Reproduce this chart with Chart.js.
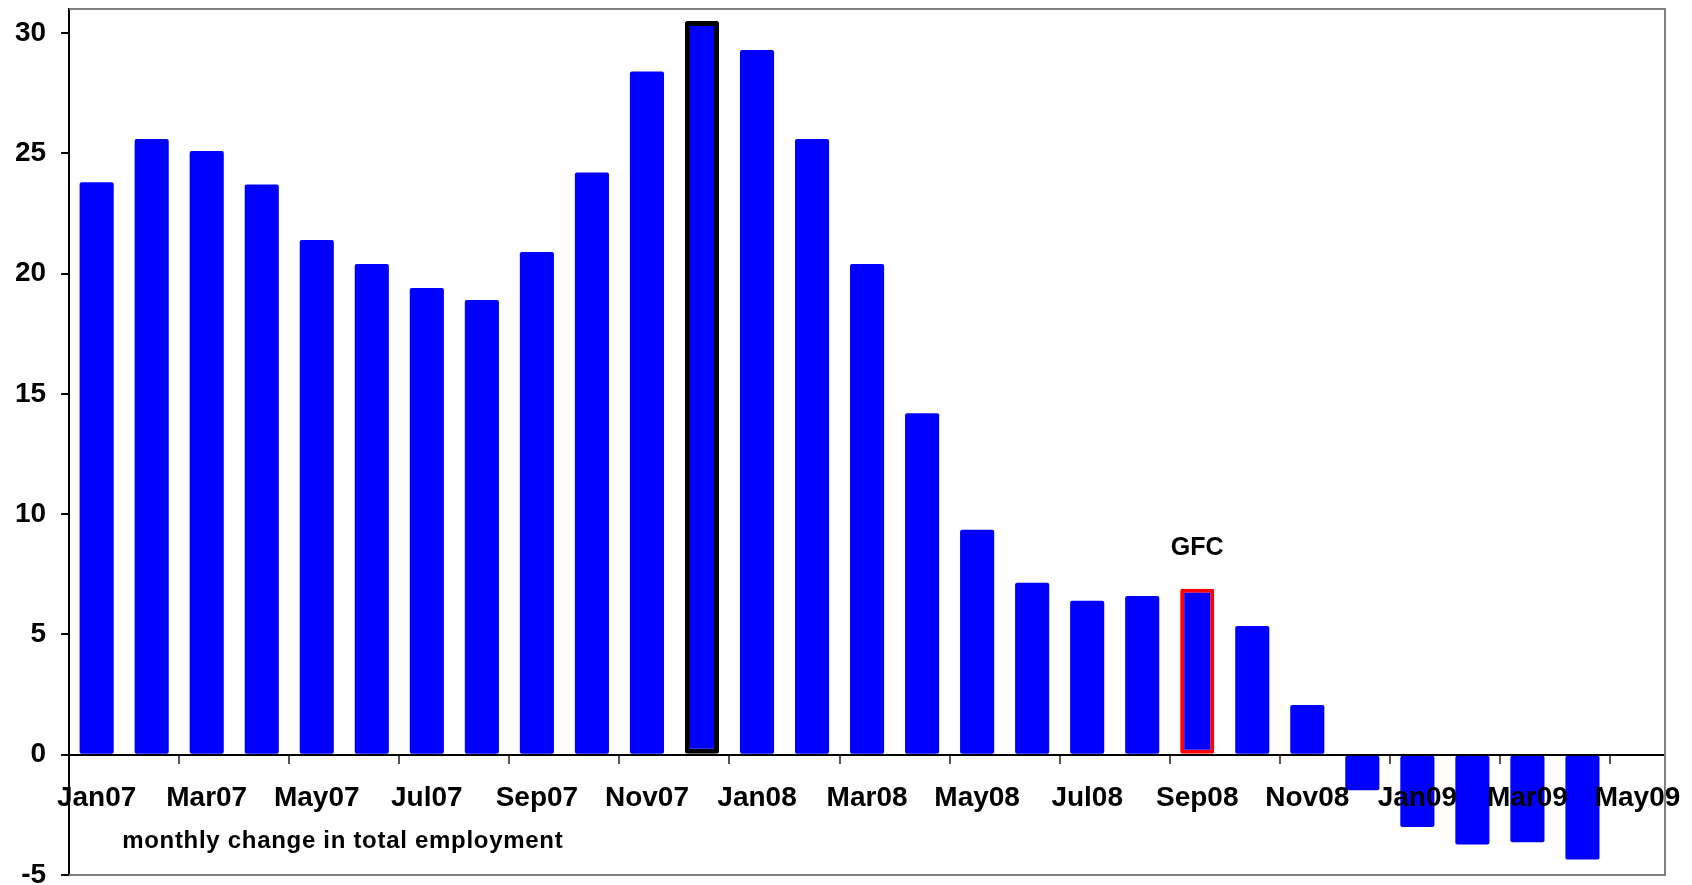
<!DOCTYPE html>
<html>
<head>
<meta charset="utf-8">
<script src="https://cdn.jsdelivr.net/npm/chart.js@4"></script>
<style>
  html, body { margin: 0; padding: 0; background: #fff; }
  #wrap { width: 1692px; height: 885px; }
</style>
</head>
<body>
<div id="wrap"><canvas id="employment_change_chart" width="1692" height="885"></canvas></div>
<script>
const months = ['Jan07','Feb07','Mar07','Apr07','May07','Jun07','Jul07','Aug07','Sep07','Oct07','Nov07','Dec07',
  'Jan08','Feb08','Mar08','Apr08','May08','Jun08','Jul08','Aug08','Sep08','Oct08','Nov08','Dec08',
  'Jan09','Feb09','Mar09','Apr09','May09'];
const employmentChange = [23.8, 25.6, 25.1, 23.7, 21.4, 20.4, 19.4, 18.9, 20.9, 24.2, 28.4, 30.5,
  29.3, 25.6, 20.4, 14.2, 9.35, 7.15, 6.4, 6.6, 6.9, 5.35, 2.07, -1.48,
  -3.0, -3.73, -3.64, -4.36, null];
const yTickValues = [-5, 0, 5, 10, 15, 20, 25, 30];
const highlightMonths = { 'Dec07': '#000000', 'Sep08': '#ff0000' };
const noteLabel = 'GFC';
const noteMonth = 'Sep08';
const axisNote = 'monthly change in total employment';

const tickFont = { family: 'Liberation Sans, Arial, sans-serif', size: 28, weight: 'bold' };

let employment_change_canvas = document.querySelector('#employment_change_chart');

// frame round the plot area and the two text notes
const frame_and_notes = {
  id: 'frame_and_notes',
  afterDraw(chart) {
    const ctx = chart.ctx;
    const a = chart.chartArea;
    const xs = chart.scales.x;
    const ys = chart.scales.y;
    ctx.save();
    ctx.strokeStyle = '#808080';
    ctx.lineWidth = 2;
    ctx.beginPath();
    ctx.moveTo(a.left, a.top);
    ctx.lineTo(a.right, a.top);
    ctx.lineTo(a.right, a.bottom);
    ctx.lineTo(a.left, a.bottom);
    ctx.stroke();

    ctx.fillStyle = '#000';
    ctx.font = 'bold 25px Liberation Sans, Arial, sans-serif';
    ctx.textAlign = 'center';
    ctx.textBaseline = 'middle';
    const i = months.indexOf(noteMonth);
    ctx.fillText(noteLabel, xs.getPixelForValue(i), ys.getPixelForValue(employmentChange[i]) - 41);

    ctx.textAlign = 'left';
    ctx.font = 'bold 24px Liberation Sans, Arial, sans-serif';
    ctx.letterSpacing = '0.7px';
    ctx.fillText(axisNote, a.left + 53, ys.getPixelForValue(-3.62));
    ctx.restore();
  }
};

const employment_change_chart = new Chart(
  employment_change_canvas,
  {
    type: 'bar',
    data: {
      labels: months,
      datasets: [{
        data: employmentChange,
        backgroundColor: '#0000ff',
        borderColor: months.map(m => highlightMonths[m] || '#0000ff'),
        borderWidth: months.map(m => highlightMonths[m] === '#000000' ? 5 : (highlightMonths[m] ? 4 : 0)),
        borderSkipped: false,
        borderRadius: 2,
        barPercentage: 0.62,
        categoryPercentage: 1.0
      }]
    },
    options: {
      responsive: false,
      animation: false,
      devicePixelRatio: 1,
      layout: { padding: { left: 0, top: 9, right: 27, bottom: 10 } },
      scales: {
        x: {
          position: { y: 0 },
          afterFit: s => { s.paddingLeft = 0; s.paddingRight = 0; },
          grid: {
            drawOnChartArea: false,
            offset: true,
            tickLength: 8,
            lineWidth: 2,
            color: ctx => ctx.index % 2 === 0 ? '#555555' : 'rgba(0,0,0,0)'
          },
          border: { color: '#000', width: 2, z: 1 },
          ticks: {
            z: 1,
            autoSkip: false,
            maxRotation: 0,
            padding: 19,
            color: '#000',
            font: tickFont,
            callback: (v, i) => i % 2 === 0 ? months[i] : ''
          }
        },
        y: {
          min: -5,
          max: 31,
          afterBuildTicks: s => { s.ticks = yTickValues.map(v => ({ value: v })); },
          afterFit: s => { s.paddingTop = 0; s.paddingBottom = 0; },
          grid: { drawOnChartArea: false, tickLength: 8, color: '#000', lineWidth: 2 },
          border: { color: '#000', width: 2 },
          ticks: { padding: 15, color: '#000', font: tickFont }
        }
      },
      plugins: {
        legend: { display: false },
        tooltip: { enabled: false }
      }
    },
    plugins: [frame_and_notes]
  }
);
</script>
</body>
</html>
